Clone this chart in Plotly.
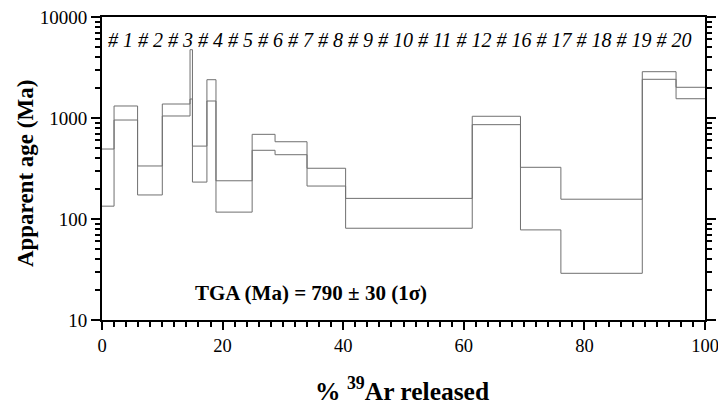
import plotly.graph_objects as go

# Step boundaries (% 39Ar released, cumulative)
step_edges = [0, 2.0, 5.9, 10.0, 14.6, 15.0, 17.4, 18.9, 24.9, 28.7, 34.0,
              40.4, 61.4, 69.4, 76.1, 89.6, 95.2, 100]
# Upper and lower bound of apparent age per step (Ma)
age_upper = [493, 1315, 335, 1376, 4745, 527, 2394, 239, 689, 582, 318,
             160, 1040, 325, 157, 2874, 2014]
age_lower = [134, 955, 173, 1047, 1542, 232, 1473, 117, 479, 433, 212,
             81, 859, 78, 29, 2416, 1552]
step_labels = ["1", "2", "3", "4", "5", "6", "7", "8", "9", "10", "11",
               "12", "16", "17", "18", "19", "20"]
x_ticks = [0, 20, 40, 60, 80, 100]
y_ticks = [10, 100, 1000, 10000]

SERIF = "Liberation Serif, Times New Roman, serif"

fig = go.Figure()
for vals in (age_upper, age_lower):
    fig.add_trace(go.Scatter(
        x=step_edges, y=vals + [vals[-1]], mode="lines", line_shape="hv",
        line=dict(color="#707070", width=1), showlegend=False,
        hoverinfo="skip"))

label_text = " ".join("# " + s for s in step_labels)
fig.add_annotation(text="<i>" + label_text + "</i>", xref="paper",
                   yref="paper", x=0.494, y=0.924, xanchor="center",
                   yanchor="middle", showarrow=False,
                   font=dict(family=SERIF, size=20, color="black"))
fig.add_annotation(text="<b>TGA (Ma) = 790 ± 30 (1σ)</b>", xref="paper",
                   yref="paper", x=0.346, y=0.089, xanchor="center",
                   yanchor="middle", showarrow=False,
                   font=dict(family=SERIF, size=21, color="black"))
fig.add_annotation(text="<b>% <sup>39</sup>Ar released</b>", xref="paper",
                   yref="paper", x=0.497, y=-0.228, xanchor="center",
                   yanchor="middle", showarrow=False,
                   font=dict(family=SERIF, size=25.5, color="black"))
fig.add_annotation(text="<b>Apparent age (Ma)</b>", xref="paper",
                   yref="paper", x=-0.127, y=0.483, xanchor="center",
                   yanchor="middle", textangle=-90, showarrow=False,
                   font=dict(family=SERIF, size=23, color="black"))

minor_y = [m * d for d in (10, 100, 1000) for m in range(2, 10)]

fig.update_layout(
    width=718, height=406,
    margin=dict(l=102, r=13, t=17, b=86),
    paper_bgcolor="white", plot_bgcolor="white",
    font=dict(family=SERIF, color="black"),
    xaxis=dict(
        range=[0, 100], tickvals=x_ticks, ticks="outside", ticklen=8,
        tickwidth=2, tickcolor="black", showline=True, linewidth=2,
        linecolor="black", mirror=True, showgrid=False, zeroline=False,
        automargin=False, ticklabeloverflow="allow",
        tickfont=dict(family=SERIF, size=18.5, color="black"),
        minor=dict(ticks="outside", ticklen=5, tickwidth=1.5,
                   tickcolor="black", dtick=2, showgrid=False),
    ),
    yaxis=dict(
        type="log", range=[1, 4], tickvals=y_ticks,
        ticktext=[str(v) for v in y_ticks], ticks="outside", ticklen=9,
        tickwidth=2, tickcolor="black", showline=True, linewidth=2,
        linecolor="black", mirror="ticks", showgrid=False, zeroline=False,
        automargin=False, ticklabeloverflow="allow",
        tickfont=dict(family=SERIF, size=19, color="black"),
        minor=dict(ticks="outside", ticklen=5, tickwidth=1.5,
                   tickcolor="black", tickvals=minor_y, showgrid=False),
    ),
)

fig.write_html("out.html")
